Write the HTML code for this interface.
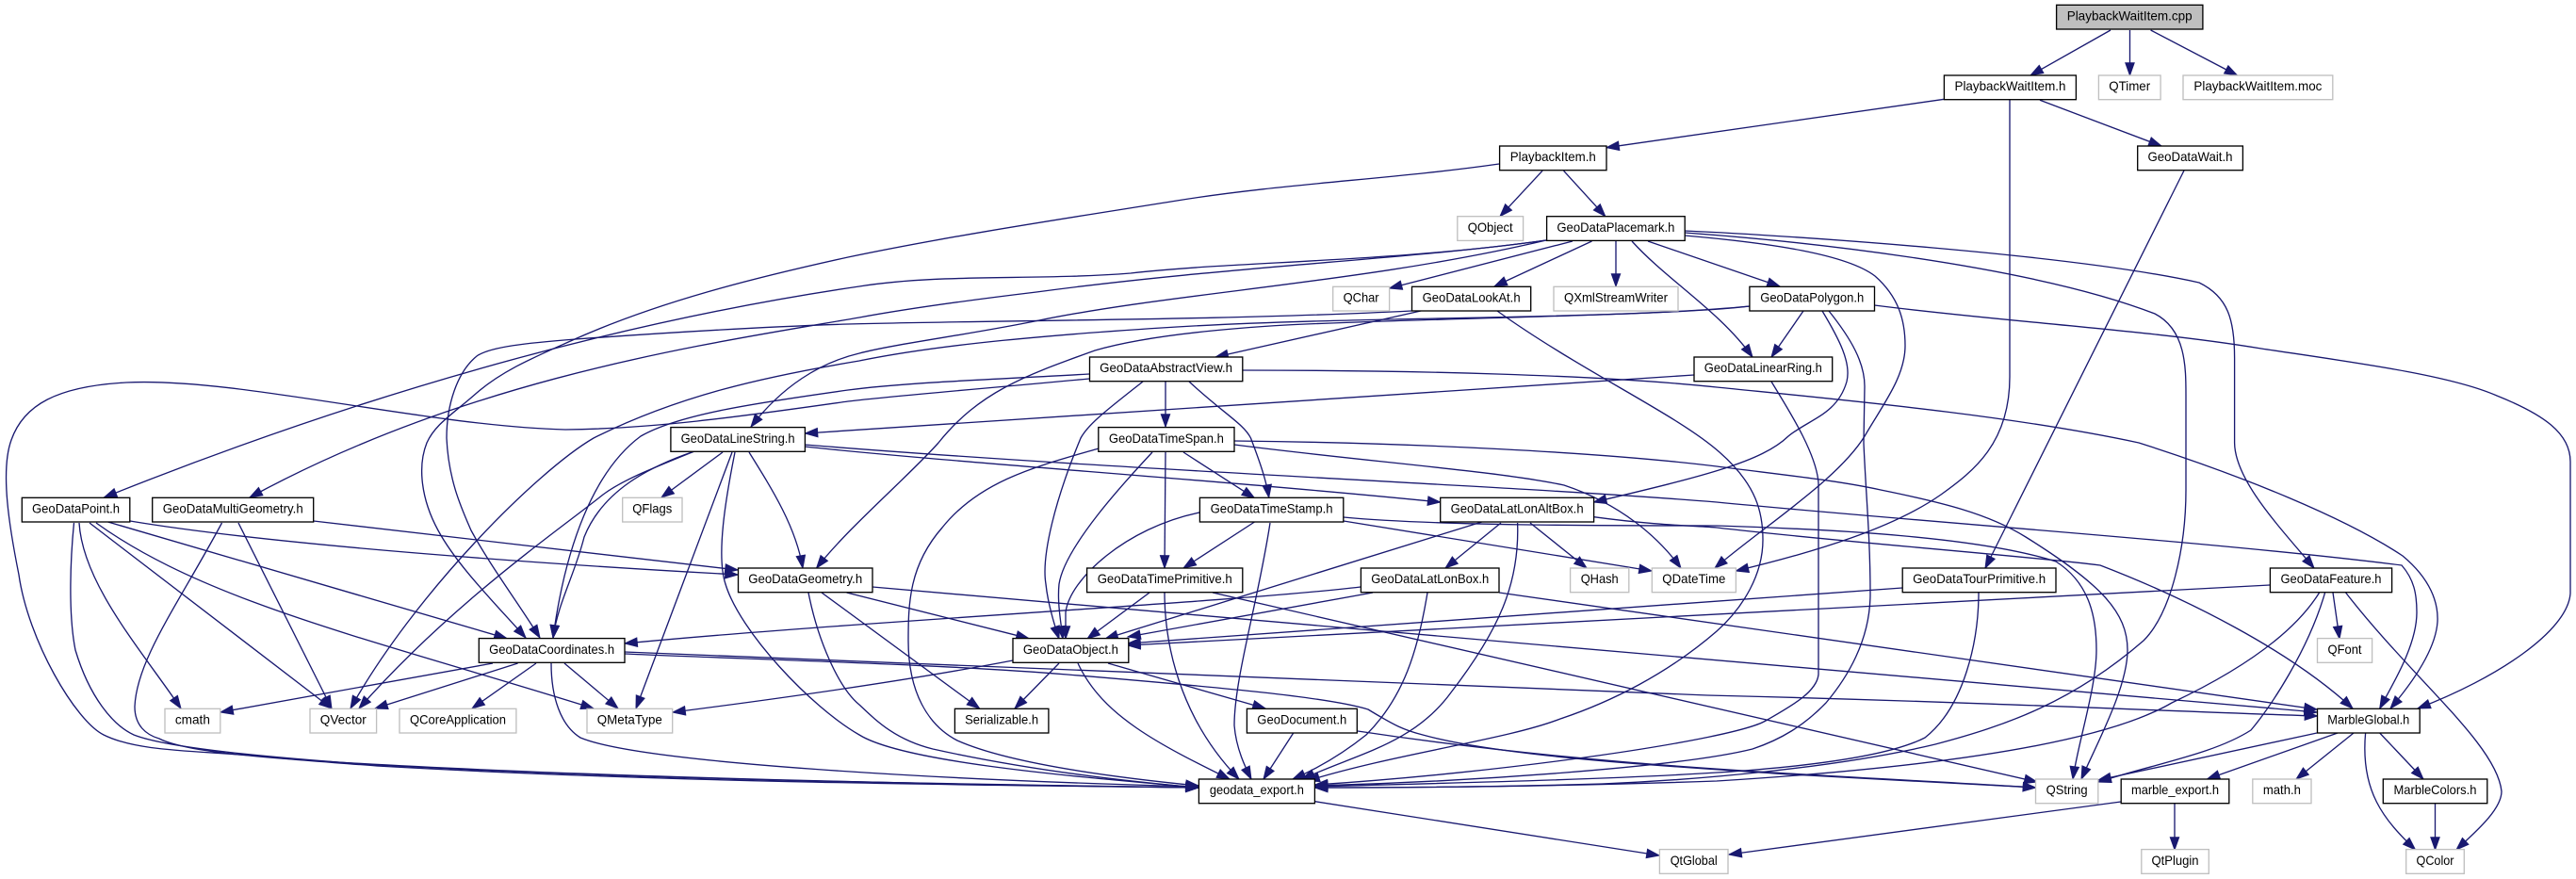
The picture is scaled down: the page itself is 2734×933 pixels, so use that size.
<!DOCTYPE html>
<html><head><meta charset="utf-8"><title>PlaybackWaitItem.cpp</title>
<style>
html,body{margin:0;padding:0;background:#fff;width:2734px;height:933px;overflow:hidden}
svg{display:block}
text{font-family:"Liberation Sans",sans-serif;font-size:14px;fill:#000;text-anchor:middle}
.n rect{fill:#fff;stroke:#000;stroke-width:1.33}
.g rect{fill:#fff;stroke:#bfbfbf;stroke-width:1.33}
</style></head><body>
<svg xmlns="http://www.w3.org/2000/svg" width="2734" height="933" viewBox="0 0 2734 933">
<defs><marker id="a" markerUnits="userSpaceOnUse" markerWidth="16" markerHeight="12" refX="14" refY="5.5" orient="auto"><path d="M0.7 0.8L14 5.5L0.7 10.2z" fill="#191970" stroke="#191970" stroke-width="1"/></marker></defs>
<rect width="2734" height="933" fill="#fff"/>
<g fill="none" stroke="#191970" stroke-width="1.33" marker-end="url(#a)">
<path d="M2240 32L2155 80"/>
<path d="M2260.5 32L2260.5 80"/>
<path d="M2282.6 32L2374.5 80"/>
<path d="M2063.4 105.3L1705 156.7"/>
<path d="M2165 106.3L2294 155"/>
<path d="M2133 106L2133 400C2133 470 2095 500 2060 525C2010 560 1930 585 1842.4 606"/>
<path d="M2318 181L2107 603"/>
<path d="M1637 181.3L1592 229.7"/>
<path d="M1659.6 181.3L1703.8 229.7"/>
<path d="M1591 174C1480 190 1360 195 1249 213C1130 232 1010 250 900 273C800 295 700 320 610 360C570 378 535 392 506 417C480 440 462 450 453 470C443 495 447 530 465 563C485 600 525 640 558 677"/>
<path d="M1641 255C1480 278 1300 278 1200 290C1100 298 1000 290 912 304C700 335 430 400 110.5 528"/>
<path d="M1641 255C1500 275 1300 283 1100 310C1000 322 950 330 912 337C750 365 500 400 265 528"/>
<path d="M1641 255C1450 300 1250 310 1103 340C1030 355 950 365 912 375C870 385 830 410 797 453"/>
<path d="M1669 256L1474.6 306"/>
<path d="M1689.5 256L1586 304"/>
<path d="M1715 256L1715 304"/>
<path d="M1749 256L1889 304"/>
<path d="M1732 256C1770 298 1825 330 1860 379"/>
<path d="M1788 245C1900 250 2200 270 2334 300C2365 315 2371.6 340 2371.6 380L2371.6 470C2372 510 2420 560 2456 603"/>
<path d="M1788 247C1900 255 2150 280 2287 333C2320 350 2320 390 2320 420L2320 520C2320 580 2305 650 2275 680C2200 745 2130 770 2054 790C1950 815 1800 828 1700 832C1600 835 1500 836 1395.7 836"/>
<path d="M1788 250C1880 258 1960 270 1990 293C2015 315 2022 340 2022 367C2022 400 1998 430 1979 463C1950 510 1870 560 1820 603"/>
<path d="M1498 330C1300 340 1050 340 900 344C780 348 680 355 611 360C560 364 520 368 506 378C485 395 474 430 474 465C476 510 490 540 500 563C520 600 550 640 573 677"/>
<path d="M1508 330L1290 379"/>
<path d="M1589 330C1680 395 1780 440 1825 480C1865 515 1871 545 1871 573C1871 610 1850 645 1822 670C1770 715 1710 745 1656 763C1600 785 1480 800 1387 829"/>
<path d="M1857 325C1780 335 1500 338 1365 345C1280 350 1210 358 1162 372C1090 398 1040 415 996 470C965 505 900 560 866.6 603"/>
<path d="M1857 325C1700 340 1450 335 1249 347C1120 355 1000 365 912 383C810 400 720 420 630 465C570 500 440 630 372 752"/>
<path d="M1914 330L1880 379"/>
<path d="M1934 330C1952 360 1965 385 1960 405C1950 440 1920 445 1898 463C1870 490 1810 505 1691.6 533"/>
<path d="M1941 330C1965 360 1979 385 1979 410L1978 470C1980 520 1985 570 1985 630C1985 680 1960 720 1938 746C1915 770 1890 785 1860 795C1780 815 1550 830 1395.7 834"/>
<path d="M1989.5 324C2130 342 2280 350 2400 370C2500 385 2600 398 2650 420C2700 440 2728 460 2728 490L2728 630C2725 670 2650 720 2566 752"/>
<path d="M1880 405C1895 430 1928 480 1930 513L1930 716C1928 735 1900 750 1874 765C1840 785 1600 820 1395.7 833"/>
<path d="M1798 398L854.4 460"/>
<path d="M1156 402C1050 412 950 420 900 426C800 440 700 455 600 456C450 452 250 400 134 406C60 410 25 430 12 467C0 500 10 560 20 610C30 680 80 765 110 780C150 800 220 796 300 805C500 820 900 832 1272 836"/>
<path d="M1156 397C1050 403 960 406 900 414C800 428 720 440 680 463C630 500 600 580 587 677"/>
<path d="M1237 405L1237 453"/>
<path d="M1213 405C1175 435 1155 450 1147 465C1120 530 1105 590 1110 620C1112 640 1118 660 1124 678"/>
<path d="M1262 405C1300 440 1320 450 1327.5 465C1337 490 1344 510 1346.7 528"/>
<path d="M1319 393C1500 393 1700 398 1822 411C1950 424 2130 440 2270 470C2380 505 2490 550 2550 590C2580 615 2588 640 2587 660C2585 690 2560 725 2537 752"/>
<path d="M737 479C690 495 640 520 620 570C610 610 592 640 587 677"/>
<path d="M737 479C690 498 660 510 640 525C590 565 480 640 381 752"/>
<path d="M767 480L702 528"/>
<path d="M777 480L675 752"/>
<path d="M780 480C770 530 760 590 770 620C785 670 860 750 912 780C960 810 1150 825 1272 836"/>
<path d="M795 480C820 520 845 560 852 603"/>
<path d="M854 472C1200 500 1600 515 1822 533C2050 555 2350 575 2549 600C2562 615 2565 630 2565 650C2565 685 2540 725 2525.7 752"/>
<path d="M854 474C1000 490 1300 510 1528.7 533"/>
<path d="M1166 476C1100 495 1040 510 1000 560C965 600 964 640 964 680C964 735 985 770 1016 786C1070 810 1180 825 1272 834"/>
<path d="M1223 480C1195 510 1130 580 1124 620C1122 640 1126 660 1128 678"/>
<path d="M1237 480L1236 603"/>
<path d="M1256 480L1331.5 528.7"/>
<path d="M1310 468C1500 470 1700 480 1822 495C1900 505 1950 510 1996 520C2060 533 2110 545 2150 570C2230 620 2258 650 2258 690C2258 730 2225 790 2209 827"/>
<path d="M1310 472C1450 490 1590 500 1660 515C1720 535 1760 570 1784 603"/>
<path d="M1273 544C1195 560 1135 615 1131 650L1131 678"/>
<path d="M1331.5 554L1256 603"/>
<path d="M1348 555C1335 640 1310 720 1310 770C1312 795 1322 815 1328 827"/>
<path d="M1426 553L1753 606"/>
<path d="M1426 549C1520 558 1700 558 1822 558C1950 562 2100 570 2182 596C2220 620 2225 660 2225 690C2225 730 2205 790 2200 827"/>
<path d="M1691.6 548.7C1760 558 1800 558 1822 560C1950 575 2150 590 2229 600C2320 635 2430 690 2497 752"/>
<path d="M1572.7 554L1173 678"/>
<path d="M1593 555L1534 603"/>
<path d="M1610.6 555C1613 620 1590 670 1540 735C1500 790 1440 800 1382 827"/>
<path d="M1624 555L1684 603"/>
<path d="M138 553C300 580 600 600 783 610"/>
<path d="M332.7 553L783 605"/>
<path d="M114.6 554L538 677.7"/>
<path d="M102 555C220 640 400 680 630 752"/>
<path d="M95 555L352 752"/>
<path d="M84 555C88 620 150 690 192 752"/>
<path d="M78.5 555C75 590 72 650 80 690C95 740 120 770 142 780C180 795 300 805 400 812C700 828 1000 832 1272 836"/>
<path d="M253 555L352 752"/>
<path d="M235.5 555C190 640 145 700 143 750C143 770 155 780 169 784C200 800 300 805 400 813C700 830 1000 833 1272 836"/>
<path d="M858 629C868 680 890 730 912 748C930 765 950 785 990 795C1080 815 1180 828 1272 836"/>
<path d="M872 629L1039.6 752"/>
<path d="M898.6 629L1092 677.7"/>
<path d="M926 623L2459 756"/>
<path d="M1220 629L1154 678"/>
<path d="M1236 629C1236 680 1250 760 1315 827"/>
<path d="M1287 629L2162 830"/>
<path d="M1444 623C1300 640 900 660 663 683"/>
<path d="M1457 629L1197 676"/>
<path d="M1515 629C1505 690 1490 740 1450 780C1425 800 1400 815 1372 827"/>
<path d="M1591 629L2459 753"/>
<path d="M2019 624L1197 683"/>
<path d="M2100 629C2100 680 2085 750 2043 783C2000 805 1900 815 1822 820C1700 828 1500 832 1395.7 835"/>
<path d="M2409 621L1197 685"/>
<path d="M2461.6 629C2430 680 2360 720 2305 746C2230 790 2050 815 1822 829C1650 835 1500 836 1395.7 836"/>
<path d="M2467.6 629C2450 690 2410 750 2389 775C2350 800 2290 810 2227 830"/>
<path d="M2476 629L2483 678"/>
<path d="M2489.6 629C2560 720 2650 790 2655 840C2655 860 2625 885 2607 902"/>
<path d="M663 694C800 700 1000 705 1133 716C1300 730 1410 740 1452 753C1480 770 1490 775 1510 780C1600 805 1800 815 1900 822C2000 828 2100 832 2160.5 836"/>
<path d="M663 692C800 700 1200 715 1812 738C2100 745 2300 755 2459.5 760"/>
<path d="M523 704L234 756"/>
<path d="M549.6 704L398 752"/>
<path d="M569 704L501 752"/>
<path d="M599 704L656 752"/>
<path d="M585 704C585 740 595 770 616 783C680 810 1000 828 1272 835"/>
<path d="M1075 701C950 725 800 745 714 756"/>
<path d="M1124 704L1077 752"/>
<path d="M1144 704C1170 760 1230 790 1305 827"/>
<path d="M1176 704L1343 752"/>
<path d="M1372.7 778L1341 827"/>
<path d="M1441 776C1700 815 1900 820 2160.5 836"/>
<path d="M2459 778L2227 828"/>
<path d="M2481 778L2342.5 827"/>
<path d="M2498 778L2437 827"/>
<path d="M2525.7 778L2572 827"/>
<path d="M2510.6 778C2505 840 2530 870 2563.5 902"/>
<path d="M2584.5 853L2584.5 902"/>
<path d="M2251 851L1835 907"/>
<path d="M2308 853L2308 902"/>
<path d="M1395.5 850.7L1761 908"/>
</g>
<g class="n"><rect x="2182.6" y="5.3" width="155.3" height="25.7" style="fill:#bfbfbf"/><text x="2260.2" y="21.5" textLength="133" lengthAdjust="spacingAndGlyphs">PlaybackWaitItem.cpp</text></g>
<g class="n"><rect x="2063.4" y="80" width="140" height="25.7"/><text x="2133.5" y="96.2" textLength="118" lengthAdjust="spacingAndGlyphs">PlaybackWaitItem.h</text></g>
<g class="g"><rect x="2227.4" y="80" width="65.7" height="25.7"/><text x="2260.2" y="96.2" textLength="44" lengthAdjust="spacingAndGlyphs">QTimer</text></g>
<g class="g"><rect x="2317" y="80" width="158.8" height="25.7"/><text x="2396.4" y="96.2" textLength="136" lengthAdjust="spacingAndGlyphs">PlaybackWaitItem.moc</text></g>
<g class="n"><rect x="2268.7" y="155" width="111.7" height="25.7"/><text x="2324.5" y="171.2" textLength="90" lengthAdjust="spacingAndGlyphs">GeoDataWait.h</text></g>
<g class="n"><rect x="1591.6" y="155" width="113.4" height="25.7"/><text x="1648.3" y="171.2" textLength="91" lengthAdjust="spacingAndGlyphs">PlaybackItem.h</text></g>
<g class="g"><rect x="1546.8" y="229.7" width="69.8" height="25.7"/><text x="1581.7" y="245.9" textLength="48" lengthAdjust="spacingAndGlyphs">QObject</text></g>
<g class="n"><rect x="1641.6" y="229.7" width="146.6" height="25.7"/><text x="1714.9" y="245.9" textLength="125" lengthAdjust="spacingAndGlyphs">GeoDataPlacemark.h</text></g>
<g class="g"><rect x="1414.7" y="304.3" width="59.9" height="25.7"/><text x="1444.6" y="320.5" textLength="38" lengthAdjust="spacingAndGlyphs">QChar</text></g>
<g class="n"><rect x="1498.5" y="304.3" width="126.2" height="25.7"/><text x="1561.6" y="320.5" textLength="104" lengthAdjust="spacingAndGlyphs">GeoDataLookAt.h</text></g>
<g class="g"><rect x="1649" y="304.3" width="132" height="25.7"/><text x="1715" y="320.5" textLength="110" lengthAdjust="spacingAndGlyphs">QXmlStreamWriter</text></g>
<g class="n"><rect x="1856.9" y="304.3" width="132.6" height="25.7"/><text x="1923.2" y="320.5" textLength="110" lengthAdjust="spacingAndGlyphs">GeoDataPolygon.h</text></g>
<g class="n"><rect x="1798" y="379" width="146.7" height="25.7"/><text x="1871.3" y="395.2" textLength="125" lengthAdjust="spacingAndGlyphs">GeoDataLinearRing.h</text></g>
<g class="n"><rect x="1156.5" y="379" width="162.3" height="25.7"/><text x="1237.6" y="395.2" textLength="141" lengthAdjust="spacingAndGlyphs">GeoDataAbstractView.h</text></g>
<g class="n"><rect x="1165.8" y="453.6" width="144.2" height="25.7"/><text x="1237.9" y="469.8" textLength="122" lengthAdjust="spacingAndGlyphs">GeoDataTimeSpan.h</text></g>
<g class="n"><rect x="711.9" y="453.6" width="142.5" height="25.7"/><text x="783.1" y="469.8" textLength="121" lengthAdjust="spacingAndGlyphs">GeoDataLineString.h</text></g>
<g class="n"><rect x="23.3" y="528.3" width="114.5" height="25.7"/><text x="80.5" y="544.5" textLength="93" lengthAdjust="spacingAndGlyphs">GeoDataPoint.h</text></g>
<g class="n"><rect x="161.7" y="528.3" width="171" height="25.7"/><text x="247.2" y="544.5" textLength="149" lengthAdjust="spacingAndGlyphs">GeoDataMultiGeometry.h</text></g>
<g class="g"><rect x="660.7" y="528.3" width="63.3" height="25.7"/><text x="692.3" y="544.5" textLength="42" lengthAdjust="spacingAndGlyphs">QFlags</text></g>
<g class="n"><rect x="1273.4" y="528.3" width="152.4" height="25.7"/><text x="1349.6" y="544.5" textLength="130" lengthAdjust="spacingAndGlyphs">GeoDataTimeStamp.h</text></g>
<g class="n"><rect x="1528.7" y="528.3" width="162.9" height="25.7"/><text x="1610.1" y="544.5" textLength="141" lengthAdjust="spacingAndGlyphs">GeoDataLatLonAltBox.h</text></g>
<g class="n"><rect x="783.5" y="603" width="142.5" height="25.7"/><text x="854.7" y="619.2" textLength="121" lengthAdjust="spacingAndGlyphs">GeoDataGeometry.h</text></g>
<g class="n"><rect x="1153.6" y="603" width="165.2" height="25.7"/><text x="1236.2" y="619.2" textLength="143" lengthAdjust="spacingAndGlyphs">GeoDataTimePrimitive.h</text></g>
<g class="n"><rect x="1444.4" y="603" width="146.6" height="25.7"/><text x="1517.7" y="619.2" textLength="125" lengthAdjust="spacingAndGlyphs">GeoDataLatLonBox.h</text></g>
<g class="g"><rect x="1666.6" y="603" width="62.2" height="25.7"/><text x="1697.7" y="619.2" textLength="40" lengthAdjust="spacingAndGlyphs">QHash</text></g>
<g class="g"><rect x="1753.3" y="603" width="89.1" height="25.7"/><text x="1797.8" y="619.2" textLength="67" lengthAdjust="spacingAndGlyphs">QDateTime</text></g>
<g class="n"><rect x="2019.2" y="603" width="162.8" height="25.7"/><text x="2100.6" y="619.2" textLength="141" lengthAdjust="spacingAndGlyphs">GeoDataTourPrimitive.h</text></g>
<g class="n"><rect x="2409.4" y="603" width="129.2" height="25.7"/><text x="2474" y="619.2" textLength="107" lengthAdjust="spacingAndGlyphs">GeoDataFeature.h</text></g>
<g class="n"><rect x="508.3" y="677.6" width="154.7" height="25.7"/><text x="585.6" y="693.8" textLength="133" lengthAdjust="spacingAndGlyphs">GeoDataCoordinates.h</text></g>
<g class="n"><rect x="1075" y="677.6" width="122.8" height="25.7"/><text x="1136.4" y="693.8" textLength="101" lengthAdjust="spacingAndGlyphs">GeoDataObject.h</text></g>
<g class="g"><rect x="2459.5" y="677.6" width="58.1" height="25.7"/><text x="2488.5" y="693.8" textLength="36" lengthAdjust="spacingAndGlyphs">QFont</text></g>
<g class="g"><rect x="175" y="752.3" width="58.8" height="25.7"/><text x="204.4" y="768.5" textLength="37" lengthAdjust="spacingAndGlyphs">cmath</text></g>
<g class="g"><rect x="329" y="752.3" width="70.6" height="25.7"/><text x="364.3" y="768.5" textLength="49" lengthAdjust="spacingAndGlyphs">QVector</text></g>
<g class="g"><rect x="424" y="752.3" width="123.9" height="25.7"/><text x="486" y="768.5" textLength="102" lengthAdjust="spacingAndGlyphs">QCoreApplication</text></g>
<g class="g"><rect x="623" y="752.3" width="90.7" height="25.7"/><text x="668.3" y="768.5" textLength="69" lengthAdjust="spacingAndGlyphs">QMetaType</text></g>
<g class="n"><rect x="1013.4" y="752.3" width="99.5" height="25.7"/><text x="1063.1" y="768.5" textLength="78" lengthAdjust="spacingAndGlyphs">Serializable.h</text></g>
<g class="n"><rect x="1323.4" y="752.3" width="116.9" height="25.7"/><text x="1381.8" y="768.5" textLength="95" lengthAdjust="spacingAndGlyphs">GeoDocument.h</text></g>
<g class="n"><rect x="2459.5" y="752.3" width="108.7" height="25.7"/><text x="2513.8" y="768.5" textLength="87" lengthAdjust="spacingAndGlyphs">MarbleGlobal.h</text></g>
<g class="n"><rect x="1272.4" y="827" width="123" height="25.7"/><text x="1333.9" y="843.2" textLength="100" lengthAdjust="spacingAndGlyphs">geodata_export.h</text></g>
<g class="g"><rect x="2160.5" y="827" width="66.3" height="25.7"/><text x="2193.6" y="843.2" textLength="44" lengthAdjust="spacingAndGlyphs">QString</text></g>
<g class="n"><rect x="2251.2" y="827" width="114.6" height="25.7"/><text x="2308.5" y="843.2" textLength="93" lengthAdjust="spacingAndGlyphs">marble_export.h</text></g>
<g class="g"><rect x="2390.8" y="827" width="62.2" height="25.7"/><text x="2421.9" y="843.2" textLength="40" lengthAdjust="spacingAndGlyphs">math.h</text></g>
<g class="n"><rect x="2529.3" y="827" width="110.5" height="25.7"/><text x="2584.5" y="843.2" textLength="88" lengthAdjust="spacingAndGlyphs">MarbleColors.h</text></g>
<g class="g"><rect x="1761.4" y="901.6" width="72.6" height="25.7"/><text x="1797.7" y="917.8" textLength="50" lengthAdjust="spacingAndGlyphs">QtGlobal</text></g>
<g class="g"><rect x="2272.8" y="901.6" width="71.5" height="25.7"/><text x="2308.5" y="917.8" textLength="50" lengthAdjust="spacingAndGlyphs">QtPlugin</text></g>
<g class="g"><rect x="2553.7" y="901.6" width="61.6" height="25.7"/><text x="2584.5" y="917.8" textLength="40" lengthAdjust="spacingAndGlyphs">QColor</text></g>
</svg>
</body></html>
